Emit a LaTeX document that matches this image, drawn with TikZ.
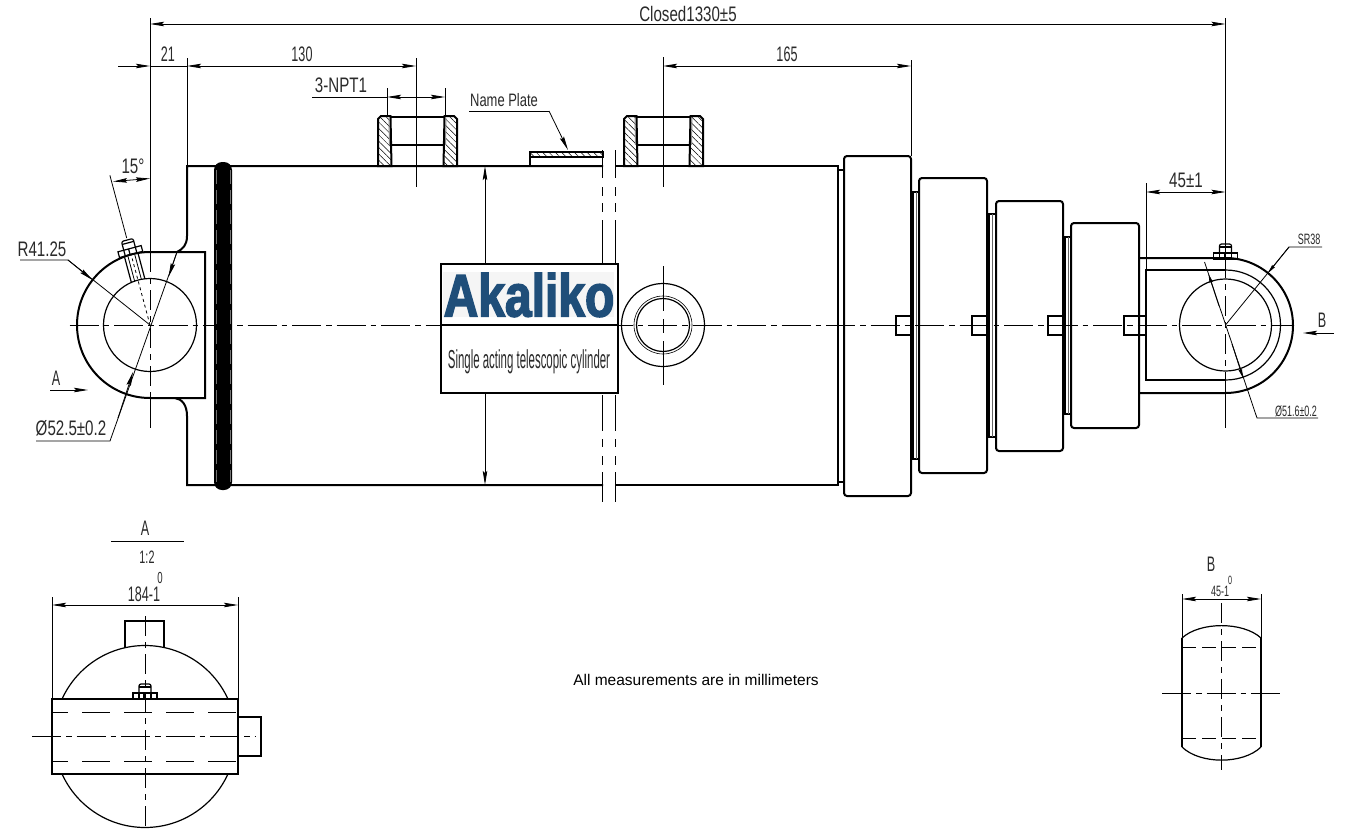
\documentclass[tikz,border=0pt]{standalone}
\usepackage{fontspec}
\usetikzlibrary{arrows.meta,patterns.meta}
\newfontfamily\dimfont[FakeStretch=.6]{Liberation Sans}
\newfontfamily\widefont[FakeStretch=.72]{Liberation Sans}
\newfontfamily\slimfont[FakeStretch=.44]{Liberation Sans}
\newfontfamily\logofont[FakeStretch=.8,FakeBold=2.5]{Liberation Sans Bold}
\newfontfamily\notefont{Liberation Sans}
\definecolor{logoblue}{HTML}{1F4E79}
\definecolor{logoback}{HTML}{F5F5F5}
\definecolor{dimgrey}{HTML}{2A2A2A}
% nipple sits on (0,0), pointing up
\newcommand{\nipple}{
  \draw[thn] (-12,0) -- (-12,-6) -- (12,-6) -- (12,0) -- cycle;
  \draw[thn] (-6,0) -- (-6,-6) (6,0) -- (6,-6) (-1,0) -- (-1,-6);
  \draw[thn,rounded corners=2pt] (-6,-6) -- (-6,-15) -- (6,-15) -- (6,-6);
  \draw[thn] (-6,-12) -- (6,-12);
}
\begin{document}
\begin{tikzpicture}[x=1pt,y=-1pt,line join=miter,>={Stealth[length=14pt,width=4.5pt,inset=2pt]}]

  \tikzstyle{thk}=[line width=2pt,black]
  \tikzstyle{thn}=[line width=1.2pt,black]
  \tikzstyle{dim}=[line width=.8pt,black]
  \tikzstyle{tiny}=[line width=.8pt,black,>={Stealth[length=9pt,width=3.5pt,inset=1pt]}]
  \tikzstyle{ctr}=[line width=.9pt,black,dash pattern=on 29pt off 5pt on 5.5pt off 5pt]
  \tikzstyle{hid}=[line width=.9pt,black,dash pattern=on 20pt off 6pt on 6pt off 6pt]
  \tikzstyle{lng}=[line width=.9pt,black,dash pattern=on 28pt off 14pt,dash phase=12pt]
  \tikzstyle{brk}=[line width=1.1pt,black]
  \tikzstyle{hatch}=[pattern={Lines[angle=-45,distance=4.5pt,line width=.5pt]}]
  \tikzstyle{lbl}=[font=\dimfont\fontsize{21}{21}\selectfont,text=dimgrey,inner sep=0pt]
  \tikzstyle{wid}=[font=\widefont\fontsize{21}{21}\selectfont,text=dimgrey,inner sep=0pt]
  \tikzstyle{sml}=[font=\dimfont\fontsize{15}{15}\selectfont,text=dimgrey,inner sep=0pt]

  \useasboundingbox (0,0) rectangle (1353,838);
  \fill[white] (0,0) rectangle (1353,838);

  \coordinate (lugc) at (150,325);
  \coordinate (eyec) at (1225.5,325);
  \coordinate (portc) at (663,325);

  % main view
  \draw[thk] (205,398) -- (150,398) arc[start angle=90,end angle=270,radius=73] -- (205,252) -- cycle;
  \draw[thn] (lugc) circle[radius=46.5];
  \draw[thk] (175,398) .. controls (182,399) and (187,405) .. (187,416) -- (187,485) -- (603,485);
  \draw[thk] (177,252) .. controls (183,249) and (187,245) .. (187,236) -- (187,166) -- (603,166);
  \draw[thk] (615,166) -- (838,166) -- (838,485) -- (615,485);

  % lug nipple
  \begin{scope}[shift={(lugc)},rotate=15]
    \draw[thn] (-7,-46) -- (-7,-72) (7,-46) -- (7,-72);
    \draw[dim] (-3.5,-46) -- (-3.5,-72) (3.5,-46) -- (3.5,-72);
    \begin{scope}[shift={(0,-73)}]
      \nipple
    \end{scope}
    \draw[dim,dashed] (0,0) -- (0,-73);
    \coordinate (ang) at (0,-155);
    \draw[dim] (0,-90) -- (ang);
  \end{scope}
  \draw[dim] (150,18) -- (150,252);
  \draw[hid] (150,252) -- (150,398);
  \draw[dim] (150,398) -- (150,428);

  % ports and plate
  \foreach \p in {417.5,663.5}{
    \draw[thk,hatch] (\p-39.5,166) -- (\p-39.5,119) -- (\p-36.5,116) -- (\p-27,116) -- (\p-26,166) -- cycle;
    \draw[thk,hatch] (\p+39.5,166) -- (\p+39.5,119) -- (\p+36.5,116) -- (\p+27,116) -- (\p+26,166) -- cycle;
    \draw[thk] (\p-27,117) -- (\p+27,117) (\p-26,145) -- (\p+26,145);
    \draw[line width=1pt,black!45] (\p-28.5,118) -- (\p-28,145) (\p+28.5,118) -- (\p+28,145);
  }
  \draw[thk,hatch] (530,157) -- (530,151.5) -- (603,151.5) -- (603,157) -- cycle;
  \draw[thk] (530,166) -- (530,157);

  % break lines
  \foreach \x in {602.5,615.5}{
    \draw[brk] (\x,150) -- (\x,178) (\x,187) -- (\x,196) (\x,203) -- (\x,212) (\x,220) -- (\x,264);
    \draw[brk] (\x,395) -- (\x,431) (\x,439) -- (\x,447) (\x,456) -- (\x,465) (\x,472) -- (\x,502);
  }

  % glands
  \foreach \xa/\xb/\ya/\yb in {844/911/156/496,919/987/178/473,996/1063/201/451,1071/1139/223/428}{
    \draw[thk,rounded corners=3pt] (\xa,\ya) rectangle (\xb,\yb);
    \draw[thk] (\xb-15,316) rectangle (\xb,335);
  }
  \draw[thk] (838,170) -- (844,170) (838,481.5) -- (844,481.5);
  \foreach \xa/\xb/\ya/\yb in {911/919/191/460,987/996/213/438,1063/1071/236/415}{
    \draw[thk] (\xa+2,\ya) -- (\xa+2,\yb) (\xa,\ya+1) -- (\xb,\ya+1) (\xa,\yb-1) -- (\xb,\yb-1);
    \draw[line width=.7pt,black!60] (\xa+5,\ya+1) -- (\xa+5,\yb-1);
  }

  % eye end
  \draw[thk] (1139,258) -- (1225.5,258) arc[start angle=-90,end angle=90,radius=67.5] -- (1139,393);
  \draw[thk] (1225.5,270) -- (1146,270) -- (1146,380) -- (1225.5,380);
  \draw[thn] (1225.5,270) arc[start angle=-90,end angle=90,radius=55];
  \draw[thn] (eyec) circle[radius=46];
  \draw[thk] (1139,316) -- (1146,316) (1139,335) -- (1146,335);
  \begin{scope}[shift={(1225.5,259)}]
    \nipple
  \end{scope}
  \draw[dim] (1225.5,18) -- (1225.5,258);
  \draw[hid] (1225.5,258) -- (1225.5,393);
  \draw[dim] (1225.5,393) -- (1225.5,428);

  % centre line and the ring over it
  \draw[ctr,dash phase=40pt] (65,325) -- (1294,325);
  \fill[black,rounded corners=8pt] (214,162) rectangle (232,490);
  \draw[black!55,line width=.3pt,dash pattern=on 14pt off 6pt] (216,170) -- (216,482) (230,170) -- (230,482);

  % name block
  \draw[line width=2.4pt,fill=white] (441,264) rectangle (618,393);
  \draw[line width=2.4pt] (441,325) -- (618,325);
  \fill[logoback] (443,272) rectangle (614,317);
  \node[text=logoblue,font=\logofont\fontsize{60}{60}\selectfont,inner sep=0pt] (logo) at (529,295) {Akaliko};
  \node[font=\slimfont\fontsize{26}{26}\selectfont,text=dimgrey,inner sep=0pt] (title) at (529,362) {Single acting telescopic cylinder};

  % port seen from the side
  \draw[thn] (portc) circle[radius=41.5];
  \draw[thn] (portc) circle[radius=26.5];
  \draw[line width=.6pt] (portc) circle[radius=29];
  \draw[dim,dash pattern=on 45pt off 8pt on 14pt off 8pt] (663,266) -- (663,385);

  % dimensions
  \coordinate (xa) at (150,24);
  \coordinate (xb) at (1225.5,24);
  \draw[dim,<->] (xa) -- (xb);
  \node[wid] (closed) at (688,14) {Closed1330±5};

  \draw[dim] (187,58) -- (187,166) (416,58) -- (416,187);
  \draw[dim,->] (118,66) -- (150,66);
  \draw[dim] (150,66) -- (187,66);
  \draw[dim,<->] (187,66) -- (416,66);
  \node[lbl] (d21) at (168,54) {21};
  \node[lbl] (d130) at (302,54) {130};

  \draw[dim] (387,88) -- (387,116) (445,88) -- (445,116) (312,97) -- (387,97);
  \draw[dim,<->] (387,97) -- (445,97);
  \node[wid] (npt) at (341,85) {3-NPT1};

  \draw[dim] (663,57) -- (663,187) (911,60) -- (911,156);
  \draw[dim,<->] (663,66) -- (911,66);
  \node[lbl] (d165) at (787,54) {165};

  \draw[dim] (469,111) -- (549,111);
  \draw[dim,->] (549,111) -- (568,150);
  \node[font=\widefont\fontsize{18}{18}\selectfont,text=dimgrey,inner sep=0pt] (plate) at (504,100) {Name Plate};

  \draw[dim,->] (485,264) -- (485,166);
  \draw[dim,->] (485,393) -- (485,485);

  \draw[dim,<->] (113,181.5) -- (150,178.5);
  \node[wid] (ang15) at (133,166) {15°};

  \draw[dim] (20,260) -- (68,260) -- (lugc);
  \draw[dim,->] (68,260) -- (92.5,280);
  \node[wid] (r41) at (42,249) {R41.25};

  \draw[dim] (36,441) -- (110,441) -- (177,252);
  \draw[dim,->] (118,418) -- (133,372);
  \draw[dim,->] (177,252) -- (168.5,277);
  \node[wid] (d52) at (71,428) {Ø52.5±0.2};

  \node[lbl] (seca) at (56,378) {A};
  \draw[dim,->] (50,390) -- (88,390);

  \draw[dim] (1146,183) -- (1146,270);
  \draw[dim,<->] (1146,192) -- (1225.5,192);
  \node[wid] (d45) at (1186,180) {45±1};

  \draw[dim] (1322,247) -- (1289,247) -- (eyec);
  \draw[tiny,->] (1289,247) -- (1268,273);
  \node[sml] (sr) at (1309,239) {SR38};

  \draw[dim] (1318,418) -- (1257,418) -- (1204.5,262);
  \draw[tiny,->] (1232,344) -- (1243,378);
  \draw[tiny,->] (1219,306) -- (1208.5,274);
  \node[sml] (d51) at (1296,411) {Ø51.6±0.2};

  \node[lbl] (secb) at (1322,320) {B};
  \draw[dim,->] (1334,333) -- (1303,333);

  % view A
  \draw[thn] (145,736.5) circle[radius=91];
  \draw[thn] (125,648) -- (125,621) -- (164,621) -- (164,648);
  \draw[thk,fill=white] (52,699) rectangle (238,774);
  \draw[thn] (238,717) -- (261,717) -- (261,756) -- (238,756);
  \begin{scope}[shift={(145,699)}]
    \nipple
  \end{scope}
  \draw[lng] (52,712) -- (238,712) (52,761) -- (238,761);
  \draw[ctr] (32,736.5) -- (256,736.5);
  \draw[hid] (145,616) -- (145,828);
  \draw[dim] (52,597) -- (52,699) (238,597) -- (238,699);
  \draw[dim,<->] (52,605) -- (238,605);
  \node[lbl] (d184) at (144,594) {184-1};
  \node[font=\dimfont\fontsize{16}{16}\selectfont,text=dimgrey,inner sep=0pt] (d184t) at (160,578) {0};
  \node[lbl] (viewa) at (145,528) {A};
  \draw[dim] (111,541) -- (184,541);
  \node[font=\dimfont\fontsize{18}{18}\selectfont,text=dimgrey,inner sep=0pt] (scale) at (147,557) {1:2};

  % view B
  \draw[thk] (1182,638) -- (1182,747) (1261,638) -- (1261,747);
  \draw[thn] (1182,638) .. controls (1200,621.5) and (1243,621.5) .. (1261,638);
  \draw[thn] (1182,747) .. controls (1200,764.5) and (1243,764.5) .. (1261,747);
  \draw[dim,dash pattern=on 14pt off 6pt] (1182,647) -- (1261,647) (1182,738) -- (1261,738);
  \draw[ctr] (1162,693) -- (1281,693);
  \draw[hid] (1221,603) -- (1221,770);
  \draw[dim] (1182,594) -- (1182,638) (1261,594) -- (1261,638);
  \draw[dim,<->] (1182,599) -- (1261,599);
  \node[sml] (d45b) at (1220,591) {45-1};
  \node[font=\dimfont\fontsize{12}{12}\selectfont,text=dimgrey,inner sep=0pt] (d45bt) at (1230,580) {0};
  \node[lbl] (viewb) at (1211,564) {B};

  \node[font=\notefont\fontsize{15.5}{15.5}\selectfont,text=black,inner sep=0pt] (note) at (696,680) {All measurements are in millimeters};
\end{tikzpicture}
\end{document}
